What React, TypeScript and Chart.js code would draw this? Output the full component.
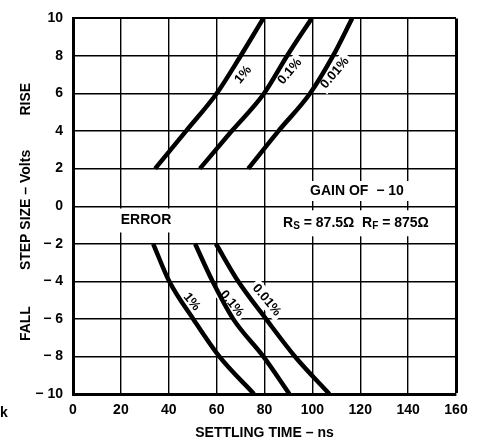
import React, { useEffect, useRef } from "react";
import { Chart, registerables } from "chart.js";

Chart.register(...registerables);

const FONT = '"Liberation Sans", Arial, Helvetica, sans-serif';

// axis ticks
const xTickValues = [0, 20, 40, 60, 80, 100, 120, 140, 160];
const yTickValues = [-10, -8, -6, -4, -2, 0, 2, 4, 6, 8, 10];

// rise curves (step size in volts vs settling time in ns)
const riseVolts = [2, 4, 6, 8, 10];
const rise1 = [34.3, 47.2, 60, 70, 79.5];
const rise01 = [53, 66.3, 79.8, 89.4, 99.7];
const rise001 = [73.2, 85.8, 99, 108.6, 116.6];

// fall curves
const fallVolts = [-2, -4, -6, -8, -10];
const fall1 = [33.5, 40.2, 50.2, 61.1, 75.6];
const fall01 = [51, 58.3, 66.9, 79.5, 90.4];
const fall001 = [59.7, 69, 80.6, 92.7, 107.1];

// curve labels (anchored at data coordinates)
const curveLabelText = ["1%", "0.1%", "0.01%", "1%", "0.1%", "0.01%"];
const curveLabelX = [71.1, 90.6, 109.4, 49.6, 66.3, 80.9];
const curveLabelY = [7.0, 7.18, 7.1, -5.1, -5.18, -5.0];
const curveLabelAngle = [-50, -50, -50, 50, 50, 50];

const xTitle = "SETTLING TIME – ns";
const yTitles = ["RISE", "STEP SIZE – Volts", "FALL"];
const yTitleAt = [5.7, -0.2, -6.25];

const toPts = (xs: number[], ys: number[]) => xs.map((x, i) => ({ x, y: ys[i] }));

const F = (size: number) => `bold ${size}px ${FONT}`;

const annotPlugin = {
  id: "annot",
  beforeDatasetsDraw(chart: any) {
    const { ctx, scales } = chart;
    const xs = scales.x;
    const ys = scales.y;
    ctx.save();
    ctx.fillStyle = "#fff";
    const boxes = [
      { x: 30.5, y: -0.76, hw: 31, hh: 12 },
      { x: 118.6, y: 0.81, hw: 57, hh: 10 },
      { x: 118.2, y: -0.91, hw: 72, hh: 13 },
    ];
    for (const b of boxes) {
      const px = xs.getPixelForValue(b.x);
      const py = ys.getPixelForValue(b.y);
      ctx.fillRect(px - b.hw, py - b.hh, b.hw * 2, b.hh * 2);
    }
    ctx.font = F(13);
    curveLabelText.forEach((t, i) => {
      const px = xs.getPixelForValue(curveLabelX[i]);
      const py = ys.getPixelForValue(curveLabelY[i]);
      const w = ctx.measureText(t).width + 6;
      ctx.save();
      ctx.translate(px, py);
      ctx.rotate((curveLabelAngle[i] * Math.PI) / 180);
      ctx.fillRect(-w / 2, -8, w, 16);
      ctx.restore();
    });
    ctx.restore();
  },
  afterDatasetsDraw(chart: any) {
    const { ctx, scales, chartArea } = chart;
    const xs = scales.x;
    const ys = scales.y;
    ctx.save();
    ctx.fillStyle = "#000";
    ctx.textAlign = "center";
    ctx.textBaseline = "middle";
    ctx.font = F(13);
    curveLabelText.forEach((t, i) => {
      const px = xs.getPixelForValue(curveLabelX[i]);
      const py = ys.getPixelForValue(curveLabelY[i]);
      ctx.save();
      ctx.translate(px, py);
      ctx.rotate((curveLabelAngle[i] * Math.PI) / 180);
      ctx.fillText(t, 0, 0);
      ctx.restore();
    });
    ctx.font = F(14);
    ctx.fillText("ERROR", xs.getPixelForValue(30.5), ys.getPixelForValue(-0.76));
    ctx.fillText("GAIN OF  − 10", xs.getPixelForValue(118.6), ys.getPixelForValue(0.81));
    const pieces = [
      { t: "R", sub: false },
      { t: "S", sub: true },
      { t: " = 87.5Ω  R", sub: false },
      { t: "F", sub: true },
      { t: " = 875Ω", sub: false },
    ];
    let total = 0;
    const widths = pieces.map((p) => {
      ctx.font = p.sub ? F(10) : F(14);
      const w = ctx.measureText(p.t).width;
      total += w;
      return w;
    });
    let cx = xs.getPixelForValue(118.2) - total / 2;
    const cy = ys.getPixelForValue(-0.91);
    ctx.textAlign = "left";
    pieces.forEach((p, i) => {
      ctx.font = p.sub ? F(10) : F(14);
      ctx.fillText(p.t, cx, p.sub ? cy + 3 : cy);
      cx += widths[i];
    });
    ctx.font = F(14);
    ctx.textAlign = "center";
    ctx.fillText(xTitle, (chartArea.left + chartArea.right) / 2, 433);
    yTitles.forEach((t, i) => {
      ctx.save();
      ctx.translate(26, ys.getPixelForValue(yTitleAt[i]));
      ctx.rotate(-Math.PI / 2);
      ctx.fillText(t, 0, 0);
      ctx.restore();
    });
    ctx.textAlign = "left";
    ctx.fillText("k", 0, 413);
    ctx.restore();
  },
};

export default function App() {
  const ref = useRef<HTMLCanvasElement | null>(null);
  useEffect(() => {
    if (!ref.current) return;
    const line = (data: any[]) => ({
      data,
      showLine: true,
      borderColor: "#000",
      borderWidth: 4.5,
      pointRadius: 0,
      cubicInterpolationMode: "monotone",
      fill: false,
    });
    const chart = new Chart(ref.current, {
      type: "scatter",
      data: {
        datasets: [
          line(toPts(rise1, riseVolts)),
          line(toPts(rise01, riseVolts)),
          line(toPts(rise001, riseVolts)),
          line(toPts(fall1, fallVolts)),
          line(toPts(fall01, fallVolts)),
          line(toPts(fall001, fallVolts)),
        ],
      },
      options: {
        animation: false,
        responsive: false,
        layout: { padding: { left: 0, top: 11, right: 27, bottom: 0 } },
        plugins: { legend: { display: false }, tooltip: { enabled: false } },
        scales: {
          x: {
            type: "linear",
            min: 0,
            max: 160,
            afterBuildTicks: (s: any) => {
              s.ticks = xTickValues.map((v) => ({ value: v }));
            },
            afterFit: (s: any) => {
              s.height = 50;
            },
            grid: {
              color: "#000",
              lineWidth: (c: any) => (c.tick && c.tick.value === 160 ? 3 : 1.4),
              drawTicks: false,
            },
            border: { color: "#000", width: 3 },
            ticks: {
              padding: 8,
              color: "#000",
              font: { family: FONT, size: 14, weight: "bold" },
              maxRotation: 0,
              autoSkip: false,
            },
          },
          y: {
            type: "linear",
            min: -10,
            max: 10,
            afterBuildTicks: (s: any) => {
              s.ticks = yTickValues.map((v) => ({ value: v }));
            },
            afterFit: (s: any) => {
              s.width = 73;
            },
            grid: {
              color: "#000",
              lineWidth: (c: any) => (c.tick && c.tick.value === 10 ? 2 : 1.4),
              drawTicks: false,
            },
            border: { color: "#000", width: 3 },
            ticks: {
              padding: 10,
              color: "#000",
              font: { family: FONT, size: 14, weight: "bold" },
              autoSkip: false,
              callback: (v: any) => (v < 0 ? `− ${Math.abs(v)}` : `${v}`),
            },
          },
        },
      },
      plugins: [annotPlugin],
    } as any);
    return () => chart.destroy();
  }, []);
  return (
    <div style={{ position: "fixed", left: 0, top: 0, width: 483, height: 444, background: "#fff" }}>
      <canvas ref={ref} width={483} height={444} />
    </div>
  );
}
